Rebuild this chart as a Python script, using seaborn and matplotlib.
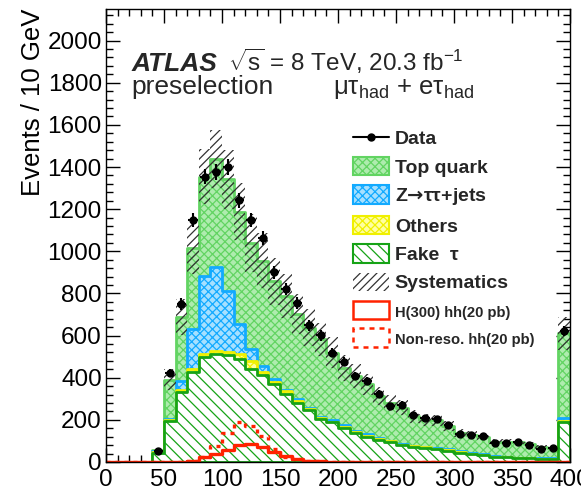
import numpy as np
import matplotlib
matplotlib.use("Agg")
import matplotlib.pyplot as plt
import seaborn as sns
from matplotlib.lines import Line2D
from matplotlib.patches import Patch
from matplotlib.ticker import MultipleLocator

# 10 GeV bins from 40 to 400 GeV (stack + data)
bin_lo = list(range(40, 400, 10))
data = [54, 423, 750, 1150, 1354, 1375, 1400, 1243, 1150, 1063, 900, 821,
        755, 649, 601, 519, 476, 407, 383, 322, 264, 272, 224, 208,
        205, 177, 132, 129, 124, 89, 89, 97, 81, 62, 68, 622]
fake_tau = [45, 195, 333, 425, 498, 512, 508, 491, 442, 412, 368, 325,
            281, 245, 204, 188, 162, 138, 120, 104, 96, 81, 73, 68,
            61, 54, 45, 38, 33, 25, 22, 18, 18, 14, 14, 189]
others = [2, 5, 11, 16, 15, 15, 16, 23, 37, 17, 14, 10,
          9, 5, 4, 4, 4, 3, 3, 3, 2, 2, 2, 2,
          2, 2, 2, 2, 1, 1, 1, 1, 1, 1, 1, 5]
ztautau = [3, 2, 39, 189, 368, 397, 289, 141, 58, 27, 11, 9,
           8, 5, 6, 5, 8, 5, 12, 5, 4, 3, 3, 3,
           3, 4, 3, 3, 3, 2, 2, 2, 2, 2, 2, 14]
top_quark = [5, 189, 307, 385, 474, 514, 528, 532, 503, 500, 464, 445,
             404, 383, 368, 322, 273, 261, 233, 200, 178, 172, 138, 127,
             131, 112, 87, 86, 84, 69, 72, 76, 65, 56, 48, 402]
syst = [8, 50, 85, 124, 132, 138, 140, 135, 138, 130, 110, 105,
        95, 88, 80, 72, 62, 56, 50, 42, 38, 35, 29, 27,
        26, 23, 18, 17, 16, 13, 13, 13, 11, 10, 9, 80]

# signals over the full range 0-400 GeV
sig_lo = list(range(0, 400, 10))
h300 = [0, 0, 0, 0, 0, 0, 1, 4, 25, 37, 56, 79, 85, 70, 47, 30,
        13, 6, 3, 2, 2, 1, 1, 1, 0, 0, 0, 0, 0, 0, 0, 0,
        0, 0, 0, 0, 0, 0, 0, 0]
nonreso = [0, 0, 0, 0, 0, 0, 1, 5, 25, 78, 137, 192, 169, 122, 62, 22,
           12, 7, 4, 2, 1, 1, 1, 0, 0, 0, 0, 0, 0, 0, 0, 0,
           0, 0, 0, 0, 0, 0, 0, 0]

sns.set_theme(style="ticks")
plt.rcParams["font.family"] = ["Liberation Sans", "DejaVu Sans"]
plt.rcParams["mathtext.fontset"] = "custom"
plt.rcParams["mathtext.rm"] = "Liberation Sans"
plt.rcParams["mathtext.it"] = "Liberation Sans:italic"
plt.rcParams["mathtext.bf"] = "Liberation Sans:bold"
plt.rcParams["mathtext.sf"] = "DejaVu Sans:bold"
plt.rcParams["hatch.linewidth"] = 0.9

fig = plt.figure(figsize=(5.81, 4.92), dpi=100)
ax = fig.add_axes([106 / 581, 30 / 492, 464 / 581, 453 / 492])

edges = bin_lo + [400]
centers = np.array(bin_lo) + 5
sig_edges = sig_lo + [400]
sig_centers = np.array(sig_lo) + 5

# stacked levels, drawn back to front
lvl_fake = np.array(fake_tau, float)
lvl_others = lvl_fake + np.array(others)
lvl_z = lvl_others + np.array(ztautau)
lvl_top = lvl_z + np.array(top_quark)

c_top = ("#aeecae", "#62d462")
c_z = ("#a6e0ff", "#12aaff")
c_oth = ("#ffffa0", "#f0f000")
c_fake = ("white", "#16a316")
c_sig = "#ff2200"

layers = [(lvl_top, c_top, "xxxx"), (lvl_z, c_z, "xxxx"),
          (lvl_others, c_oth, "xxxx"), (lvl_fake, c_fake, "\\\\\\")]
for vals, (face, edge), hatch in layers:
    sns.histplot(x=centers, weights=vals, bins=edges, element="step", fill=True,
                 facecolor=face, edgecolor=edge, hatch=hatch, linewidth=2,
                 alpha=1, ax=ax)

# systematic band around the total
sy = np.array(syst)
ax.stairs(lvl_top + sy, edges, baseline=lvl_top - sy, fill=True,
          facecolor="none", edgecolor="#333333", hatch="////", linewidth=0)

# signals
sns.histplot(x=sig_centers, weights=h300, bins=sig_edges, element="step",
             fill=False, color=c_sig, linewidth=2.4, alpha=1, ax=ax)
sns.histplot(x=sig_centers, weights=nonreso, bins=sig_edges, element="step",
             fill=False, color=c_sig, linewidth=2.4, linestyle=(0, (1.2, 1.5)),
             alpha=1, ax=ax)

# data
d = np.array(data, float)
ax.errorbar(centers, d, xerr=4, yerr=np.sqrt(d), fmt="o", color="black",
            ms=5, elinewidth=1.5, capsize=0, zorder=10)

ax.set_xlim(0, 400)
ax.set_ylim(0, 2150)
ax.xaxis.set_major_locator(MultipleLocator(50))
ax.xaxis.set_minor_locator(MultipleLocator(10))
ax.yaxis.set_major_locator(MultipleLocator(200))
ax.yaxis.set_minor_locator(MultipleLocator(40))
ax.tick_params(which="both", direction="in", top=True, right=True,
               color="black", labelcolor="black", labelsize=17.5, width=1)
ax.tick_params(which="major", length=10)
ax.tick_params(which="minor", length=5)
ax.tick_params(axis="x", pad=5)
ax.tick_params(axis="y", pad=3)
for s in ax.spines.values():
    s.set_color("black")
    s.set_linewidth(1)
ax.set_xlabel("")
ax.set_ylabel("Events / 10 GeV", fontsize=18.5, loc="top", labelpad=2, color="black")

ax.text(0.054, 0.864, "ATLAS", transform=ax.transAxes, fontsize=19,
        fontweight="bold", style="italic", va="baseline")
ax.text(0.263, 0.864, r"$\sqrt{\mathrm{s}}$ = 8 TeV, 20.3 fb$^{\mathrm{-1}}$",
        transform=ax.transAxes, fontsize=17.5, va="baseline")
ax.text(0.054, 0.812, "preselection", transform=ax.transAxes, fontsize=19,
        va="baseline")
ax.text(0.489, 0.812, "μτ$_{\\mathrm{had}}$ + eτ$_{\\mathrm{had}}$",
        transform=ax.transAxes, fontsize=18.5, va="baseline")

handles = [
    Line2D([], [], color="black", marker="o", ms=5, lw=1.5),
    Patch(facecolor=c_top[0], edgecolor=c_top[1], hatch="xxxx", lw=1.5),
    Patch(facecolor=c_z[0], edgecolor=c_z[1], hatch="xxxx", lw=1.5),
    Patch(facecolor=c_oth[0], edgecolor=c_oth[1], hatch="xxxx", lw=1.5),
    Patch(facecolor=c_fake[0], edgecolor=c_fake[1], hatch="\\\\\\", lw=1.5),
    Patch(facecolor="none", edgecolor="#333333", hatch="////", lw=0),
    Patch(facecolor="white", edgecolor=c_sig, lw=1.8),
    Patch(facecolor="white", edgecolor=c_sig, lw=1.8, linestyle=(0, (2, 2))),
]
labels = ["Data", "Top quark", "Z$\\mathsf{→}$ττ+jets", "Others", "Fake  τ",
          "Systematics", "H(300) hh(20 pb)", "Non-reso. hh(20 pb)"]
leg = ax.legend(handles, labels, loc="upper left", bbox_to_anchor=(0.532, 0.736),
                frameon=False, prop={"weight": "bold", "size": 14},
                handlelength=1.85, handleheight=1.08, handletextpad=0.31,
                labelspacing=0.44, borderpad=0, borderaxespad=0)
for t in leg.get_texts()[6:]:
    t.set_fontsize(10.6)

fig.savefig("out.png", dpi=100)
